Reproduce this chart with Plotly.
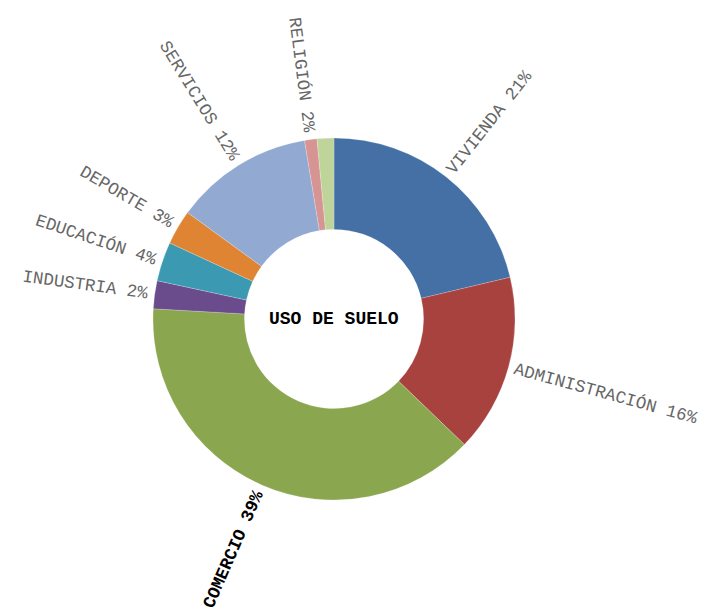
import math
import plotly.graph_objects as go

# ---- data ----
categories = ["VIVIENDA", "ADMINISTRACIÓN", "COMERCIO", "INDUSTRIA", "EDUCACIÓN",
              "DEPORTE", "SERVICIOS", "RELIGIÓN", ""]
shares = [21.3, 15.9, 38.7, 2.5, 3.5, 3.1, 12.4, 1.1, 1.5]
shown_pct = ["21%", "16%", "39%", "2%", "4%", "3%", "12%", "2%", ""]
colors = ["#4470A6", "#A8423F", "#8AA64E", "#6A4C8C", "#3B9AB2",
          "#DE8432", "#92A9D2", "#D69492", "#BFD49A"]
title_text = "USO DE SUELO"

W, H = 720, 613
CX, CY, R = 334, 319, 181
FS = 17.5

fig = go.Figure()
fig.add_trace(go.Pie(
    labels=[c if c else "OTRO" for c in categories],
    values=shares,
    hole=0.495,
    sort=False,
    direction="clockwise",
    rotation=0,
    textinfo="none",
    hoverinfo="label+percent",
    marker=dict(colors=colors, line=dict(color="rgba(255,255,255,0.35)", width=0.6)),
    domain=dict(x=[(CX - R) / W, (CX + R) / W], y=[(H - CY - R) / H, (H - CY + R) / H]),
    showlegend=False,
))

total = sum(shares)
cum = 0.0
annotations = []
for name, v, pct in zip(categories, shares, shown_pct):
    mid = (cum + v / 2) / total * 360.0
    cum += v
    if not name:
        continue
    text = f"{name} {pct}"
    L = len(text) * 0.6 * FS
    r_center = R + 7 + L / 2
    rad = math.radians(mid)
    px = CX + r_center * math.sin(rad)
    py = CY - r_center * math.cos(rad)
    if mid <= 180:
        ang = mid - 90
    else:
        ang = mid - 270
    bold = name == "COMERCIO"
    annotations.append(dict(
        x=px / W, y=1 - py / H, xref="paper", yref="paper",
        xanchor="center", yanchor="middle", showarrow=False,
        text=f"<b>{text}</b>" if bold else text,
        textangle=ang,
        font=dict(family="Liberation Mono, Courier New, monospace", size=FS,
                  color="#000000" if bold else "#666666"),
    ))

annotations.append(dict(
    x=CX / W, y=1 - CY / H, xref="paper", yref="paper", showarrow=False,
    xanchor="center", yanchor="middle",
    text=f"<b>{title_text}</b>",
    font=dict(family="Liberation Mono, Courier New, monospace", size=18, color="#000000"),
))

fig.update_layout(
    width=W, height=H,
    margin=dict(l=0, r=0, t=0, b=0),
    paper_bgcolor="white", plot_bgcolor="white",
    annotations=annotations,
)

fig.write_html("out.html", config={"displayModeBar": False},
               post_script="document.body.style.margin='0';")
